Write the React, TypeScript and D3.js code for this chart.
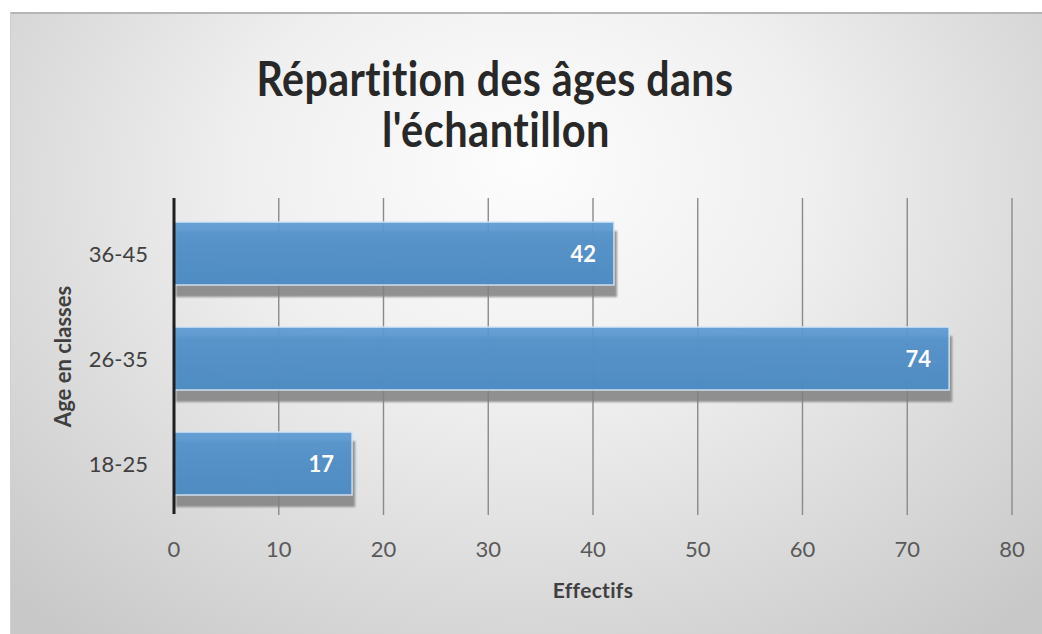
import React from "react";
import * as d3 from "d3";

const categories = ["36-45", "26-35", "18-25"];
const values = [42, 74, 17];
const xTicks = [0, 10, 20, 30, 40, 50, 60, 70, 80];
const titleLines = ["Répartition des âges dans", "l'échantillon"];
const xTitle = "Effectifs";
const yTitle = "Age en classes";

const W = 1042;
const H = 634;
const FONT = "Lato, 'Open Sans', sans-serif";
const noLig: React.CSSProperties = { fontVariantLigatures: "none", fontFeatureSettings: "'liga' 0" };

export default function App() {
  const x = d3.scaleLinear().domain([0, 80]).range([174, 1012]);
  const y = d3.scaleBand<string>().domain(categories).range([201, 516]).paddingInner(0.4).paddingOuter(0.2);
  const gridTop = 198;
  const gridBottom = 515;
  const bw = y.bandwidth();

  return (
    <svg width={W} height={H} style={{ position: "absolute", left: 0, top: 0, display: "block" }}>
      <defs>
        <radialGradient id="bg" cx="50%" cy="30%" r="70%" fx="50%" fy="25%" gradientTransform="translate(0.5,0.3) scale(1,1.3) translate(-0.5,-0.3)">
          <stop offset="0%" stopColor="#fdfdfd" />
          <stop offset="40%" stopColor="#efefef" />
          <stop offset="100%" stopColor="#c8c8c8" />
        </radialGradient>
        <linearGradient id="barg" x1="0" y1="0" x2="0" y2="1">
          <stop offset="0%" stopColor="#5d9bd3" />
          <stop offset="30%" stopColor="#5393cd" />
          <stop offset="100%" stopColor="#4b8cc7" />
        </linearGradient>
        <filter id="blur" x="-5%" y="-20%" width="110%" height="140%">
          <feGaussianBlur stdDeviation="1" />
        </filter>
      </defs>
      <rect x={0} y={0} width={W} height={H} fill="#ffffff" />
      <rect x={10} y={12} width={W - 10} height={H - 12} fill="url(#bg)" />
      <line x1={10} x2={W} y1={13} y2={13} stroke="#b5b5b5" strokeWidth={2} />
      <line x1={10.5} x2={10.5} y1={12} y2={H} stroke="#d0d0d0" strokeWidth={1} />

      {/* title */}
      <text x={495} y={96} textAnchor="middle" fontFamily={FONT} fontWeight={700} fontSize={47} fill="#282828" letterSpacing={0.5} textLength={477} lengthAdjust="spacingAndGlyphs" style={noLig}>
        {titleLines[0]}
      </text>
      <text x={496} y={147} textAnchor="middle" fontFamily={FONT} fontWeight={700} fontSize={47} fill="#282828" letterSpacing={0.5} textLength={228} lengthAdjust="spacingAndGlyphs" style={noLig}>
        {titleLines[1]}
      </text>

      {/* gridlines */}
      {xTicks.filter((t) => t !== 0).map((t) => (
        <line key={t} x1={x(t)} x2={x(t)} y1={gridTop} y2={gridBottom} stroke="#8a8a8a" strokeWidth={1.4} />
      ))}

      {/* bars */}
      {categories.map((c, i) => {
        const y0 = y(c)!;
        const w = x(values[i]) - x(0);
        return (
          <g key={c}>
            <rect x={x(0) + 2} y={y0 + 9} width={w + 1} height={bw + 3} fill="#808080" opacity={0.85} filter="url(#blur)" />
            <rect x={x(0)} y={y0} width={w} height={bw} fill="url(#barg)" opacity={0.93} stroke="#d3e5f5" strokeWidth={1.5} />
            <text x={x(values[i]) - 18} y={y0 + bw / 2 + 8} textAnchor="end" fontFamily={FONT} fontWeight={700} fontSize={22} fill="#ffffff">
              {values[i]}
            </text>
          </g>
        );
      })}

      {/* axis line */}
      <line x1={x(0)} x2={x(0)} y1={gridTop} y2={gridBottom - 1} stroke="#1e1e1e" strokeWidth={3} />

      {/* x tick labels */}
      {xTicks.map((t) => (
        <text key={t} x={x(t)} y={557} textAnchor="middle" fontFamily={FONT} fontSize={22} fill="#595959">
          {t}
        </text>
      ))}

      {/* y tick labels */}
      {categories.map((c) => (
        <text key={c} x={148} y={y(c)! + bw / 2 + 8} textAnchor="end" fontFamily={FONT} fontSize={22} fill="#404040">
          {c}
        </text>
      ))}

      {/* axis titles */}
      <text x={(x(0) + x(80)) / 2} y={598} textAnchor="middle" fontFamily={FONT} fontWeight={700} fontSize={21} fill="#404040" letterSpacing={0.3} style={noLig}>
        {xTitle}
      </text>
      <text transform={`translate(71, ${(gridTop + gridBottom) / 2}) rotate(-90)`} textAnchor="middle" fontFamily={FONT} fontWeight={700} fontSize={22} fill="#404040">
        {yTitle}
      </text>
    </svg>
  );
}
